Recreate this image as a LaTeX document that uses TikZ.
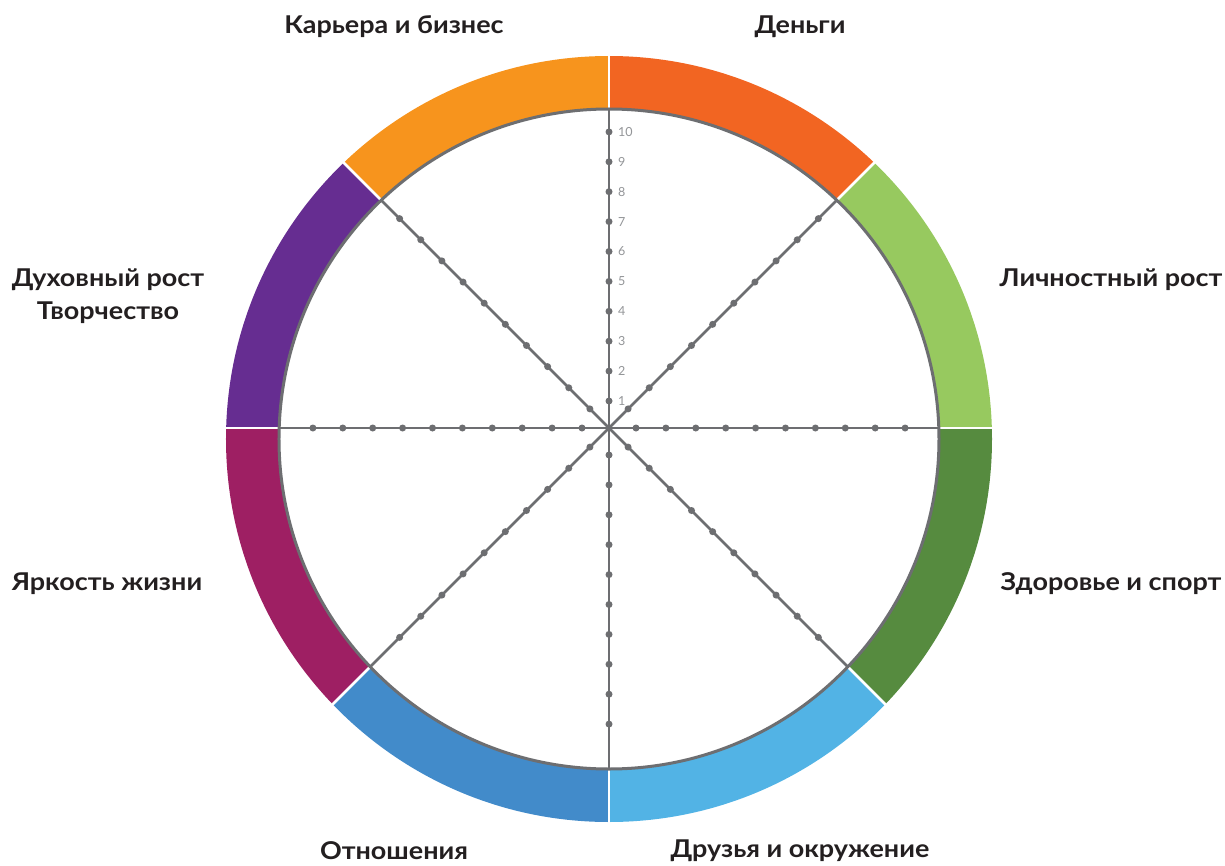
\documentclass[tikz,border=0pt]{standalone}
\usepackage{fontspec}
\setmainfont{Lato}
\newfontfamily\areafont{Lato}[FakeStretch=1.1]
\usepackage{xcolor}
\definecolor{ringgray}{HTML}{6D6E71}
\definecolor{numgray}{HTML}{939598}
\definecolor{labeltext}{HTML}{231F20}
\definecolor{careerorange}{HTML}{F7941D}
\definecolor{moneyorange}{HTML}{F26522}
\definecolor{growthgreen}{HTML}{97C95F}
\definecolor{healthgreen}{HTML}{568B3F}
\definecolor{friendsblue}{HTML}{52B3E5}
\definecolor{loveblue}{HTML}{428BCA}
\definecolor{brightred}{HTML}{9E1F63}
\definecolor{spiritpurple}{HTML}{662D91}

\begin{document}
\begin{tikzpicture}[x=1pt,y=1pt,
  area/.style={font=\areafont\fontsize{24.5}{33}\selectfont\bfseries, text=labeltext, align=center, inner sep=0pt},
  spoke/.style={ringgray, line width=2.6pt},
  scorenum/.style={anchor=west, font=\fontsize{12.5}{12.5}\selectfont, text=numgray, inner sep=0pt}]

\useasboundingbox (-609,-437) rectangle (616,428);

% Coloured ring, one wedge per area
\foreach \a/\col in {0/growthgreen, 45/moneyorange, 90/careerorange, 135/spiritpurple,
                     180/brightred, 225/loveblue, 270/friendsblue, 315/healthgreen}{
  \begin{scope}
    \clip (0,0) -- (\a:600) -- (\a+22.5:600) -- (\a+45:600) -- cycle;
    \fill[\col, even odd rule] (0,-11) circle (383) (0,-11) circle (330);
  \end{scope}
}

% White gaps between the wedges
\foreach \a in {0,45,...,315}
  \draw[white, line width=2.8pt] (\a:300) -- (\a:420);

% Inner disc
\draw[ringgray, line width=3pt, fill=white] (0,-11) circle (330);

% Spokes
\begin{scope}
  \clip (0,-11) circle (330);
  \foreach \a in {0,45,...,315}
    \draw[spoke] (0,0) -- (\a:400);
\end{scope}

% Score marks on every spoke
\foreach \a in {0,45,...,315}
  \foreach \k in {1,...,10}
    \fill[ringgray] (\a:{27+29.9*(\k-1)}) circle (3.5);

% Scale numbers on the top spoke
\foreach \k in {1,...,10}
  \node[scorenum] (num\k) at (9,{27+29.9*(\k-1)}) {\k};

% Area labels
\node[area] (career)  at (-215,401)  {Карьера и бизнес};
\node[area] (money)   at (191,401)   {Деньги};
\node[area] (growth)  at (502,148)   {Личностный рост};
\node[area] (health)  at (502,-156)  {Здоровье и спорт};
\node[area] (friends) at (191,-423)  {Друзья и окружение};
\node[area] (love)    at (-215,-423) {Отношения};
\node[area] (bright)  at (-502,-156) {Яркость жизни};
\node[area] (spirit)  at (-501,131.5) {Духовный рост\\Творчество};

\end{tikzpicture}
\end{document}
